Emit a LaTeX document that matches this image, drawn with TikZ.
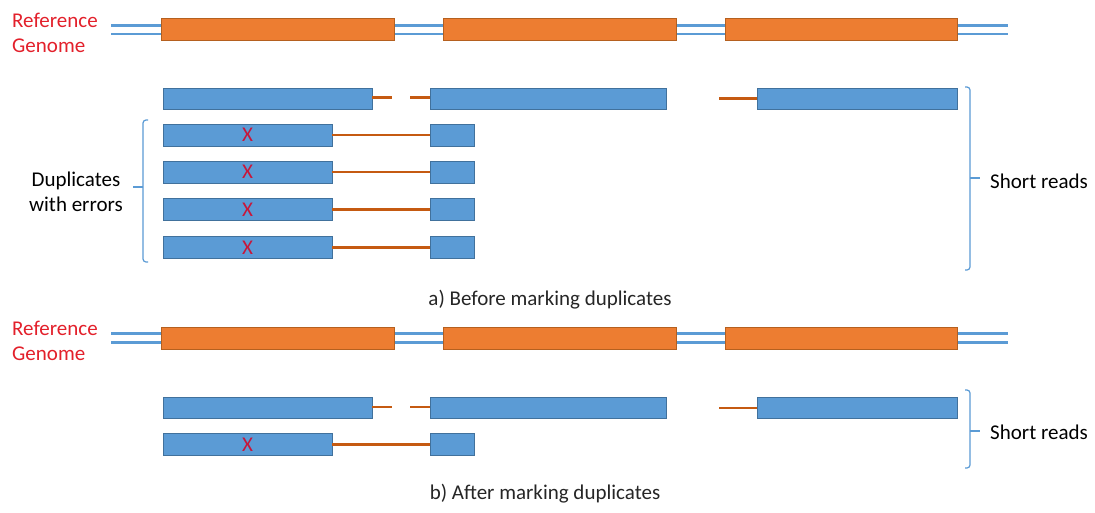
\documentclass[tikz,border=0pt]{standalone}
\usepackage{fontspec}
\setmainfont{Carlito}
\usepackage{xcolor}
\usetikzlibrary{positioning,calc}

\definecolor{exonorange}{HTML}{ED7D31}
\definecolor{exonedge}{HTML}{B5601F}
\definecolor{readblue}{HTML}{5B9BD5}
\definecolor{readedge}{HTML}{41719C}
\definecolor{gaplink}{HTML}{C55A11}
\definecolor{labelred}{HTML}{E3202B}
\definecolor{errred}{HTML}{C8163A}

\tikzset{
  exon/.style={draw=exonedge,fill=exonorange,line width=0.8pt,inner sep=0pt,outer sep=0pt,minimum height=22},
  read/.style={draw=readedge,fill=readblue,line width=0.8pt,inner sep=0pt,outer sep=0pt,minimum height=21},
  strand/.style={readblue,line width=2.6pt},
  link/.style={gaplink,line width=2.4pt},
  brace/.style={readblue,line width=1.2pt,rounded corners=3pt},
  txt/.style={font=\fontsize{21}{25}\selectfont,inner sep=0pt},
  err/.style={txt,text=errred},
}

\begin{document}
\begin{tikzpicture}[x=1pt,y=-1pt]
  \useasboundingbox[fill=white] (0,0) rectangle (1095,512);

  % reference genome, drawn twice
  \foreach \gy/\gn in {29.5/a,338/b}{
    \coordinate (gl\gn) at (111,\gy);
    \coordinate (gr\gn) at (1008,\gy);
    \draw[strand] ($(gl\gn)+(0,-4.3)$) -- ($(gr\gn)+(0,-4.3)$);
    \draw[strand] ($(gl\gn)+(0,4.3)$) -- ($(gr\gn)+(0,4.3)$);
    \node[exon,minimum width=233] (ex\gn1) at (277.5,\gy) {};
    \node[exon,minimum width=233] (ex\gn2) at (559.5,\gy) {};
    \node[exon,minimum width=232] (ex\gn3) at (841,\gy) {};
    \node[txt,text=labelred,anchor=west,align=left] (ref\gn) at (12,{\gy+3}) {Reference\\Genome};
  }

  % spliced reads over all exons
  \foreach \ry/\rn in {98.5/a,408/b}{
    \node[read,minimum width=209] (rd\rn1) at (267.5,\ry) {};
    \node[read,minimum width=236] (rd\rn2) at (548,\ry) {};
    \node[read,minimum width=200] (rd\rn3) at (857,\ry) {};
    \coordinate (cu\rn) at (392,{\ry-1});
    \coordinate (cv\rn) at (410,{\ry-1});
    \coordinate (cw\rn) at (719,\ry);
    \draw[link] ($(rd\rn1.east)+(0,-1)$) -- (cu\rn);
    \draw[link] (cv\rn) -- ($(rd\rn2.west)+(0,-1)$);
    \draw[link] (cw\rn) -- (rd\rn3.west);
  }

  % duplicate reads with errors
  \foreach \dy/\dn in {135/1,172/2,209.5/3,247.5/4,444.5/5}{
    \node[read,minimum width=169,minimum height=22] (dl\dn) at (247.5,\dy) {};
    \node[read,minimum width=44,minimum height=22] (dr\dn) at (452,\dy) {};
    \draw[link] (dl\dn.east) -- (dr\dn.west);
    \node[err] at (dl\dn) {X};
  }

  % left bracket
  \draw[brace] (148,120) -- (143,120) -- (143,262) -- (148,262);
  \coordinate (lb) at (143,187);
  \node[txt,align=center,anchor=east] (dup) at (123,192) {Duplicates\\with errors};
  \draw[readblue,line width=1.2pt] (lb) -- ++(-10,0);

  % right brackets
  \draw[brace] (965,87) -- (970,87) -- (970,270) -- (965,270);
  \node[txt,anchor=west] (sra) at (990,181) {Short reads};
  \draw[readblue,line width=1.2pt] (970,178) -- (980,178);

  \draw[brace] (965,390) -- (970,390) -- (970,468) -- (965,468);
  \node[txt,anchor=west] (srb) at (990,432) {Short reads};
  \draw[readblue,line width=1.2pt] (970,431) -- (980,431);

  % captions
  \node[txt,text=black!85] (capa) at (550,300) {a) Before marking duplicates};
  \node[txt,text=black!85] (capb) at (545,494) {b) After marking duplicates};
\end{tikzpicture}
\end{document}
